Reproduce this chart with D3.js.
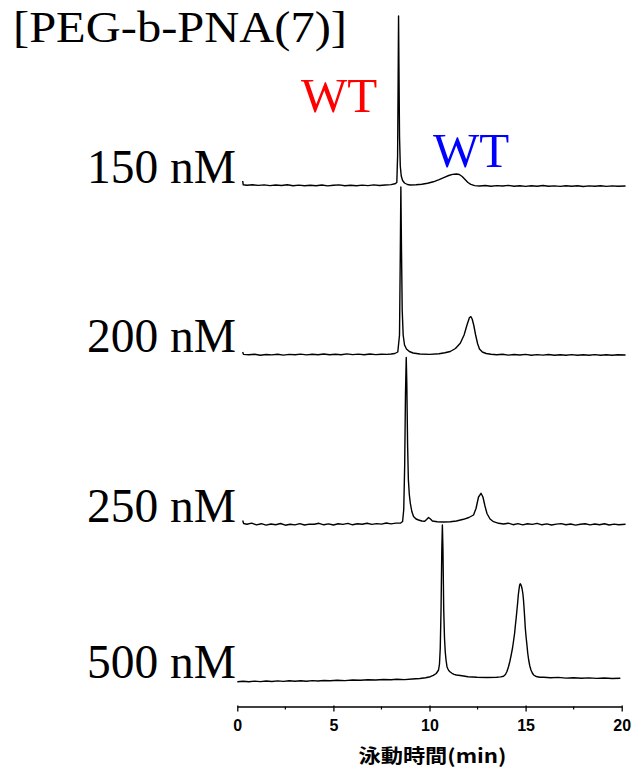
<!DOCTYPE html>
<html>
<head>
<meta charset="utf-8">
<script src="https://cdn.jsdelivr.net/npm/d3@7"></script>
<style>
  html, body { margin: 0; padding: 0; background: #fff; }
  svg { display: block; }
</style>
</head>
<body>
<svg id="chart" width="631" height="772"></svg>
<script>
// Electropherograms (time in min, signal in arbitrary units above each trace's own baseline)
const concentrations = ["150 nM", "200 nM", "250 nM", "500 nM"];
// vertical stacking offset of each trace, in signal units
const stackOffsets = [494, 325, 155.5, 0];

const trace150 = [
  [0.28, 5], [0.31, 1.2], [0.5, 0.8], [0.8, 1.2], [1.1, 0.6], [1.4, 1.1], [1.7, 0.4], [2.0, 1.0],
  [2.3, 0.5], [2.6, 1.2], [2.9, 0.3], [3.2, 0.9], [3.5, 0.2], [3.8, 0.8], [4.1, 0.3], [4.4, 1.0],
  [4.7, 0.1], [5.0, 0.7], [5.3, 1.1], [5.6, 0.3], [5.9, 0.8], [6.2, 0.2], [6.5, 0.9], [6.8, 0.4],
  [7.1, 1.1], [7.4, 0.5], [7.7, 1.0], [8.0, 1.4], [8.2, 2.2], [8.3, 3.5], [8.34, 30], [8.37, 110],
  [8.39, 170], [8.41, 120], [8.44, 50], [8.48, 20], [8.53, 10], [8.6, 5.5], [8.7, 3], [8.85, 1.5],
  [9.0, 1], [9.3, 1.2], [9.6, 1.8], [9.9, 2.8], [10.2, 4.2], [10.5, 6.3], [10.8, 8.8], [11.0, 10.5],
  [11.2, 11.6], [11.4, 12], [11.55, 11.5], [11.7, 9.5], [11.85, 6.5], [12.0, 3.5], [12.15, 1.6],
  [12.35, 0.4], [12.6, 0], [12.9, 0.5], [13.2, -0.3], [13.5, 0.4], [13.8, 0], [14.1, 0.6],
  [14.4, -0.2], [14.7, 0.3], [15.0, -0.4], [15.3, 0.2], [15.6, -0.2], [15.9, 0.5], [16.2, -0.3],
  [16.5, 0.1], [16.8, -0.4], [17.1, 0.3], [17.4, -0.2], [17.7, 0.2], [18.0, -0.5], [18.3, 0.1],
  [18.6, -0.3], [18.9, 0.2], [19.2, -0.4], [19.5, 0.1], [19.8, -0.3], [20.2, 0]
];

const trace200 = [
  [0.28, 3], [0.32, 0.6], [0.6, 0.2], [0.9, 0.7], [1.2, -0.2], [1.5, 0.5], [1.8, 0.1], [2.1, 0.8],
  [2.4, -0.1], [2.7, 0.6], [3.0, 0.2], [3.3, 0.9], [3.6, 0.1], [3.9, 0.7], [4.2, 0.2], [4.5, 1.0],
  [4.8, 0.3], [5.1, 0.8], [5.4, 0.2], [5.7, 1.1], [6.0, 0.4], [6.3, 0.9], [6.6, 0.3], [6.9, 1.0],
  [7.2, 0.4], [7.5, 0.8], [7.8, 0.6], [8.0, 1.0], [8.2, 1.5], [8.35, 3], [8.44, 20], [8.48, 100],
  [8.51, 168], [8.54, 110], [8.58, 45], [8.63, 20], [8.7, 10], [8.8, 6], [8.95, 3.5], [9.15, 2],
  [9.5, 1], [10.0, 0.6], [10.5, 1.2], [10.8, 2.2], [11.08, 3.5], [11.35, 6.5], [11.6, 11.7],
  [11.8, 20], [11.95, 30], [12.08, 37.5], [12.15, 38.3], [12.22, 36], [12.3, 30], [12.4, 20],
  [12.5, 11.5], [12.6, 6], [12.75, 3], [12.95, 1.5], [13.2, 0.8], [13.5, 0.3], [13.8, 0.7],
  [14.1, -0.1], [14.4, 0.5], [14.7, 0], [15.0, 0.6], [15.3, -0.2], [15.6, 0.4], [15.9, -0.1],
  [16.2, 0.5], [16.5, -0.3], [16.8, 0.3], [17.1, -0.2], [17.4, 0.4], [17.7, -0.3], [18.0, 0.2],
  [18.3, -0.2], [18.6, 0.4], [18.9, -0.3], [19.2, 0.2], [19.5, -0.2], [19.8, 0.3], [20.2, 0]
];

const trace250 = [
  [0.28, 4], [0.33, 1], [0.5, 0.3], [0.75, 1.4], [1.0, -0.4], [1.25, 0.8], [1.5, -0.6], [1.75, 0.5],
  [2.0, -0.2], [2.25, 1.0], [2.5, -0.7], [2.75, 0.3], [3.0, -0.4], [3.25, 0.9], [3.5, -0.5],
  [3.75, 0.4], [4.0, 0.2], [4.25, 1.2], [4.5, -0.3], [4.75, 0.6], [5.0, -0.5], [5.25, 0.8],
  [5.5, 0.1], [5.75, 1.1], [6.0, -0.3], [6.25, 0.7], [6.5, 0.2], [6.75, 1.3], [7.0, 0.1],
  [7.25, 0.9], [7.5, 0.4], [7.75, 1.5], [8.0, 0.6], [8.25, 1.4], [8.5, 1.5], [8.6, 3], [8.66, 15],
  [8.71, 60], [8.75, 130], [8.79, 167], [8.82, 140], [8.86, 80], [8.9, 45], [8.95, 30], [9.0, 21.5],
  [9.08, 13], [9.17, 8], [9.3, 5.5], [9.43, 4.5], [9.6, 3.5], [9.75, 3.2], [9.85, 5], [9.95, 7],
  [10.05, 5.5], [10.15, 3.5], [10.4, 2.8], [10.7, 2.5], [11.08, 2.8], [11.4, 3.5], [11.77, 5.2],
  [12.05, 7], [12.29, 9.5], [12.42, 16], [12.55, 27.5], [12.68, 31.2], [12.78, 27.5], [12.88, 19],
  [12.99, 11], [13.15, 5.5], [13.33, 2.8], [13.6, 1.2], [13.85, 0.5], [14.1, 1.3], [14.35, -0.2],
  [14.6, 0.9], [14.85, -0.4], [15.1, 0.7], [15.35, 0.1], [15.6, 1.1], [15.85, -0.3], [16.1, 0.6],
  [16.35, -0.5], [16.6, 0.4], [16.85, 0.9], [17.1, -0.2], [17.35, 0.5], [17.6, -0.6], [17.85, 0.3],
  [18.1, 0.8], [18.35, -0.4], [18.6, 0.5], [18.85, -0.3], [19.1, 0.7], [19.35, -0.5], [19.6, 0.4],
  [19.85, -0.2], [20.2, 0.3]
];

const trace500 = [
  [0.0, -1.7], [0.3, -1.2], [0.6, -1.8], [0.9, -1.1], [1.2, -1.6], [1.5, -1.0], [1.8, -1.5],
  [2.1, -0.9], [2.4, -1.4], [2.7, -0.8], [3.0, -1.3], [3.3, -0.7], [3.6, -1.2], [3.9, -0.6],
  [4.2, -1.0], [4.5, -0.5], [4.83, -0.7], [5.2, -0.2], [5.6, -0.6], [6.0, 0.0], [6.4, -0.3],
  [6.8, 0.3], [7.2, 0.0], [7.6, 0.5], [8.0, 0.2], [8.3, 0.7], [8.7, 0.4], [9.1, 1.0], [9.5, 1.5],
  [9.8, 2.2], [10.04, 3.3], [10.2, 4.6], [10.35, 6.5], [10.47, 10], [10.52, 16], [10.56, 32],
  [10.6, 70], [10.64, 130], [10.67, 155], [10.7, 130], [10.74, 70], [10.78, 42], [10.82, 28],
  [10.86, 20], [10.91, 13.3], [10.96, 11], [11.0, 9.5], [11.08, 8], [11.17, 6.7], [11.28, 5.7],
  [11.4, 5], [11.6, 4.5], [11.77, 4], [12.0, 3.3], [12.47, 2.7], [13.0, 2.5], [13.5, 2.8],
  [13.7, 3.1], [13.85, 3.8], [13.95, 5.5], [14.03, 8.5], [14.11, 13.3], [14.18, 18.5], [14.25, 25],
  [14.32, 32], [14.38, 40], [14.43, 47], [14.47, 55], [14.51, 62], [14.55, 70], [14.59, 78],
  [14.62, 85], [14.66, 91], [14.69, 95], [14.72, 96.2], [14.75, 95.5], [14.78, 94], [14.82, 91],
  [14.86, 86], [14.89, 80], [14.92, 72], [14.95, 63], [14.98, 53], [15.02, 44], [15.07, 35],
  [15.11, 27], [15.16, 20], [15.22, 14], [15.28, 10], [15.35, 7], [15.42, 5], [15.5, 4],
  [15.6, 3.2], [15.75, 2.8], [15.94, 2.7], [16.3, 2.2], [16.7, 2.6], [17.1, 1.9], [17.5, 2.3],
  [17.9, 1.7], [18.3, 2.1], [18.7, 1.6], [19.1, 2.0], [19.5, 1.5], [19.93, 1.7]
];

const traces = [trace150, trace200, trace250, trace500];
const xTicks = [0, 5, 10, 15, 20];
const xMinorTicks = [2.5, 7.5, 12.5, 17.5];

const svg = d3.select("#chart");

const x = d3.scaleLinear().domain([0, 20]).range([237.3, 621.7]);
// one signal unit per pixel; the lowest trace sits at signal 0
const y = d3.scaleLinear().domain([0, 700]).range([680, -20]);

const line = d3.line()
  .x(d => x(d[0]))
  .y(d => y(d[1]))
  .curve(d3.curveLinear);

traces.forEach((tr, i) => {
  const off = stackOffsets[i];
  svg.append("path")
    .datum(tr.map(p => [p[0], p[1] + off]))
    .attr("d", line)
    .attr("fill", "none")
    .attr("stroke", "#000")
    .attr("stroke-width", 1.4)
    .attr("stroke-linejoin", "round");
});

// concentration labels, right-aligned at the start of each trace
const labelBaselineShift = [3, 3, 3, 2];
concentrations.forEach((c, i) => {
  svg.append("text")
    .attr("x", 236)
    .attr("y", y(stackOffsets[i]) - labelBaselineShift[i])
    .attr("text-anchor", "end")
    .attr("font-family", "'Liberation Serif', 'Times New Roman', serif")
    .attr("font-size", 47.5)
    .attr("fill", "#000")
    .text(c);
});

// title
svg.append("text")
  .attr("x", 13)
  .attr("y", 42)
  .attr("font-family", "'Liberation Serif', 'Times New Roman', serif")
  .attr("font-size", 45)
  .attr("textLength", 334)
  .attr("lengthAdjust", "spacingAndGlyphs")
  .attr("fill", "#000")
  .text("[PEG-b-PNA(7)]");

// peak annotations
svg.append("text")
  .attr("x", 339)
  .attr("y", 112)
  .attr("text-anchor", "middle")
  .attr("font-family", "'Liberation Serif', 'Times New Roman', serif")
  .attr("font-size", 49)
  .attr("fill", "#ff0000")
  .text("WT");

svg.append("text")
  .attr("x", 471)
  .attr("y", 167)
  .attr("text-anchor", "middle")
  .attr("font-family", "'Liberation Serif', 'Times New Roman', serif")
  .attr("font-size", 49)
  .attr("fill", "#0000ff")
  .text("WT");

// time axis
const axisY = 706.5;
const axis = d3.axisBottom(x)
  .tickValues(xTicks)
  .tickSize(5)
  .tickSizeOuter(0)
  .tickPadding(8)
  .tickFormat(d3.format("d"));

const gAxis = svg.append("g")
  .attr("transform", `translate(0,${axisY})`)
  .call(axis);

gAxis.select(".domain").attr("stroke", "#000").attr("stroke-width", 1.3);
gAxis.selectAll(".tick line").attr("stroke", "#000").attr("stroke-width", 1.3).attr("y1", -1);
gAxis.selectAll(".tick text")
  .attr("font-family", "'Liberation Sans', Arial, sans-serif")
  .attr("font-weight", "bold")
  .attr("font-size", 16)
  .attr("fill", "#000");

gAxis.selectAll(".minor")
  .data(xMinorTicks)
  .enter().append("line")
  .attr("class", "minor")
  .attr("x1", d => x(d)).attr("x2", d => x(d))
  .attr("y1", 0).attr("y2", 3)
  .attr("stroke", "#000")
  .attr("stroke-width", 1.2);

svg.append("text")
  .attr("x", 432.5)
  .attr("y", 763)
  .attr("text-anchor", "middle")
  .attr("font-family", "'Noto Sans CJK JP', sans-serif")
  .attr("font-weight", "bold")
  .attr("font-size", 19)
  .attr("textLength", 148)
  .attr("lengthAdjust", "spacingAndGlyphs")
  .attr("fill", "#000")
  .text("泳動時間(min)");
</script>
</body>
</html>
